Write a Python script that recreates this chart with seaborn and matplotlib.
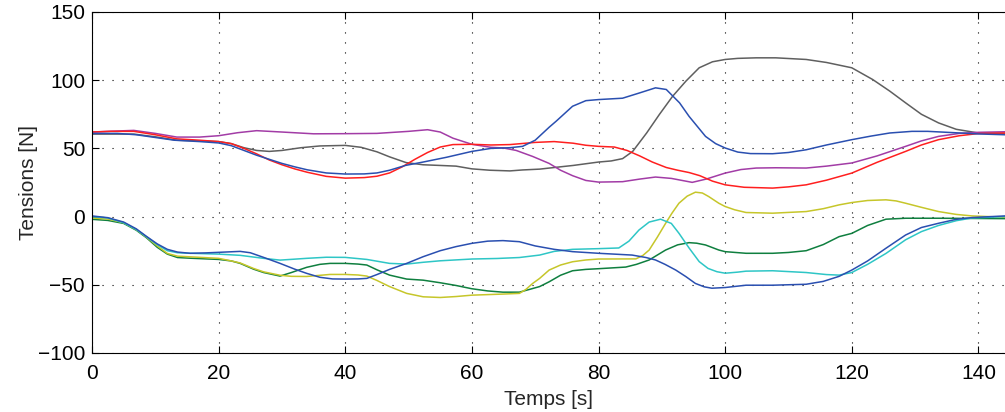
import matplotlib
matplotlib.use("Agg")
import matplotlib.pyplot as plt
import seaborn as sns
import pandas as pd

# ---- data ----
t_blue_up = [0, 4, 7, 10, 13, 17, 20, 22, 24, 26, 28, 30, 32, 34, 37, 40, 43, 45, 47, 49.5, 52.3, 56, 60, 63, 66, 68, 70, 72.2, 73.3, 75.9, 78, 80, 83.8, 86.5, 89, 90.7, 92.8, 94.3, 96.9, 98.5, 100, 102, 104, 107.5, 110, 112.8, 116, 120, 123, 126, 129.5, 132, 135, 140, 144.2]
v_blue_up = [61, 61, 60, 58, 56, 55, 54, 52, 48.5, 45, 42, 39, 36.5, 34.3, 32, 31.2, 31.3, 32, 34, 37.5, 40, 43.5, 47.8, 50, 50.5, 51.5, 56, 65.5, 69.9, 80.9, 85, 85.8, 86.8, 90.7, 94.4, 93.2, 83.4, 73.5, 58.8, 53.5, 50.3, 47.3, 46.2, 46.1, 47, 49, 52.5, 56.4, 59, 61.3, 62.5, 62.5, 61.8, 60.6, 60]

t_red_up = [0, 3, 6.6, 10, 13.4, 17, 20, 22, 24, 26, 28, 30, 32, 34, 37, 40, 43, 45, 47, 49, 51, 53, 55, 57, 60, 63, 66, 70, 73, 76, 78, 80, 82.5, 84.5, 86.5, 88.5, 90.7, 92.5, 94.3, 96, 98, 100, 103, 107.5, 110, 112.8, 116, 120, 124, 128.5, 131, 133.7, 137, 140, 144.2]
v_red_up = [62, 62.5, 62.5, 60, 57, 56, 55, 53.5, 50, 46, 41.5, 38, 35, 32.5, 29.5, 28.2, 28.6, 29.6, 32, 36.5, 42, 47, 51, 52.8, 53, 52.5, 52.8, 54.4, 55, 53.8, 52.3, 51.5, 51, 48.5, 44.5, 40, 36, 34, 32.3, 30, 26, 23.3, 21.5, 20.9, 21.8, 23.3, 26.7, 31.9, 39.8, 47.8, 52.5, 56.4, 59.3, 60.9, 61.3]

t_mag_up = [0, 3, 6.6, 10, 13.4, 17, 20, 23, 26, 30, 35, 40, 45, 50, 53, 55, 57, 60, 63, 65, 67, 69.6, 72.2, 74, 75.9, 78, 80, 83.8, 86.5, 89, 91.5, 94.8, 97, 100, 102.5, 104.9, 108, 112.8, 116, 120, 124, 128.5, 131, 133.7, 137, 140, 144.2]
v_mag_up = [62, 62.6, 63.2, 61, 58.3, 58.3, 59.3, 61.5, 63, 62, 60.7, 60.8, 61, 62.5, 63.7, 62, 57.5, 53, 50.8, 50.3, 48.5, 44.1, 39, 34, 30, 26.5, 25.3, 25.6, 27.5, 29, 28, 25.1, 27.5, 31.9, 34.5, 35.6, 35.8, 35.6, 37, 39.3, 44.5, 51.5, 55.5, 58.8, 61, 61.8, 62.2]

t_gray_up = [0, 6.6, 10, 13.4, 17, 20, 22, 24, 26, 28, 30, 33, 36, 40, 42.5, 45, 47, 49.6, 52.3, 55, 57.5, 60, 62.8, 66, 68, 70.7, 74, 76, 80, 82, 83.8, 85.4, 87.6, 89.6, 91.7, 93.8, 95.9, 98, 100, 102, 104.9, 108, 112.8, 116, 120, 123.3, 126, 128.5, 131, 133.7, 136.5, 140, 144.2]
v_gray_up = [60.5, 60.5, 58.5, 56, 55.5, 55, 53.5, 50.5, 48.5, 47.8, 48.5, 50.5, 51.8, 52.2, 50.8, 47.5, 43.8, 39.6, 38, 37.5, 37, 35, 34, 33.5, 34.2, 34.8, 36.5, 37.5, 40, 40.8, 42.5, 47.8, 61.3, 74.8, 88.2, 99.3, 109.1, 113.5, 115.2, 116, 116.4, 116.4, 115.2, 113, 109.1, 100.5, 92, 83.4, 75, 68.7, 64, 61.3, 61]

t_blue_lo = [0, 2.5, 5, 7, 8.6, 10.3, 11.9, 13.5, 15.5, 18, 20, 23.4, 25, 27.1, 29.7, 32, 33.9, 36, 38, 40, 42, 43.4, 45, 47, 49.7, 52.3, 55, 57.5, 60, 62.5, 64.9, 67.5, 70, 73, 75.9, 80, 85.3, 87.5, 89, 90.5, 92.2, 93.8, 95.3, 96.7, 97.9, 100, 103.3, 107.5, 112.8, 115.5, 118, 120, 122.5, 125.4, 128.5, 131, 133.7, 136.5, 139, 144.2]
v_blue_lo = [0.5, -0.8, -4, -9, -14.5, -20, -24, -26, -26.9, -26.6, -26.2, -25.5, -26.5, -29.9, -34.3, -38.5, -41.6, -44.5, -45.7, -45.8, -45.7, -45.3, -42.5, -38.7, -34.3, -29.4, -25, -22, -19.6, -18, -17.6, -18.4, -21.5, -24, -25.7, -26.9, -28.2, -30, -31.8, -35, -39.2, -44, -49, -51.5, -52.5, -52, -50.3, -50.3, -49.6, -47.5, -43.8, -39.2, -32.5, -23.2, -13.5, -8, -4.9, -2, -0.7, 0.5]

t_cyan_lo = [0, 2.5, 5, 7, 8.6, 10.3, 11.9, 13.5, 15.5, 20, 23.4, 27.1, 29.7, 32, 33.9, 37, 40, 43.4, 47, 49.7, 52.3, 55, 60, 64, 67.5, 70.7, 73, 75.9, 80, 83.2, 84.8, 86.4, 88, 89.8, 91.5, 92.7, 94.3, 95.9, 97.3, 98.7, 100, 102, 103.3, 107.5, 112.8, 116, 118, 120, 122.5, 125.4, 128.5, 131, 133.7, 136.5, 139, 144.2]
v_cyan_lo = [0, -1, -4.5, -9.5, -14.8, -20.5, -25, -26.5, -26.9, -27.5, -28.4, -30.6, -31.9, -31.2, -30.6, -29.8, -29.9, -31.4, -34.3, -34.8, -33.5, -32.4, -31.1, -30.7, -30, -28.2, -25.5, -24, -23.5, -23, -18, -9.8, -4, -1.9, -5, -12.2, -23, -33, -38, -40.4, -41.5, -40.7, -40, -39.7, -41, -42.5, -42.9, -41, -35, -27, -17, -11, -6.5, -3, -1, 0]

t_yel_lo = [0, 2.5, 5, 7, 8.6, 10.3, 11.9, 13.5, 15.5, 20, 22, 23.4, 25.5, 27.1, 29.7, 31.5, 33.9, 37.6, 40, 42, 43.4, 45, 47, 49.7, 52.3, 55, 57.5, 60, 64.9, 67.5, 68.5, 69.6, 70.7, 72.2, 74, 75.9, 78, 80, 85.9, 87, 88, 89.3, 90.6, 91.6, 92.7, 94, 95.3, 96.4, 97.4, 99, 100, 101.5, 103.3, 107.5, 112.8, 115.5, 118, 120, 122.5, 125.4, 127, 128.5, 131, 133.7, 136.5, 139, 144.2]
v_yel_lo = [-1, -1.8, -4.5, -9.5, -15, -21.5, -27, -29, -29.5, -30.6, -32.5, -34, -38, -40.5, -43, -43.8, -43.9, -42.4, -42.4, -42.8, -43.6, -46.8, -51.3, -56.3, -58.8, -59.3, -58.6, -57.6, -56.8, -56.3, -53.5, -49, -45.3, -39.2, -35.5, -33.1, -31.8, -31.1, -31, -28.5, -24.5, -15, -4.9, 2.5, 9.8, 15, 17.9, 17.3, 14.7, 9.8, 7.4, 5, 3, 2.5, 3.7, 5.8, 8.6, 10.3, 11.8, 12.3, 11.5, 9.8, 6.8, 3.7, 1.6, 0.5, -0.5]

t_grn_lo = [0, 2.5, 5, 7, 8.6, 10.3, 11.9, 13.5, 15.5, 20, 22, 23.4, 25.5, 27.1, 29.7, 31.5, 33.9, 36, 37.6, 40, 42, 43.4, 45, 47, 49.7, 52.3, 55, 57.5, 60, 62.5, 64.9, 67.5, 69, 70.7, 72.2, 74, 75.9, 78, 80, 84.3, 86, 88, 90.6, 92.5, 94.3, 95.5, 96.9, 99, 100, 103.3, 107.5, 110, 112.8, 115.5, 118, 120, 122.5, 125.4, 128.5, 133.7, 144.2]
v_grn_lo = [-2, -2.8, -5, -10, -15.5, -22.5, -27.5, -30, -30.5, -31.4, -32.5, -34.3, -38.5, -41, -43.6, -41, -37.2, -35, -34.3, -34.3, -34.8, -35.5, -39, -42.9, -45.8, -46.6, -48.5, -50.5, -52.9, -54.5, -55.4, -55.4, -53.5, -51.3, -47.8, -43, -39.7, -38.7, -38.2, -37, -35, -31.8, -24.5, -20.7, -19.1, -19.5, -20.8, -24.5, -25.7, -26.9, -26.9, -26.3, -25, -20.5, -14.7, -12.3, -6.5, -1.9, -1.2, -1.2, -1.5]

x_ticks = [0, 20, 40, 60, 80, 100, 120, 140]
y_ticks = [-100, -50, 0, 50, 100, 150]

series = [
    (t_gray_up, v_gray_up, "#5f5f5f"),
    (t_mag_up, v_mag_up, "#a23ca6"),
    (t_red_up, v_red_up, "#ff1f1f"),
    (t_blue_up, v_blue_up, "#2a4fb0"),
    (t_grn_lo, v_grn_lo, "#0f7f3f"),
    (t_yel_lo, v_yel_lo, "#c6c62a"),
    (t_cyan_lo, v_cyan_lo, "#2ec6c6"),
    (t_blue_lo, v_blue_lo, "#2a4fb0"),
]

sns.set_style("white")
plt.rcParams['font.family'] = ['Liberation Sans', 'DejaVu Sans']

fig = plt.figure(figsize=(10.05, 4.12), dpi=100)
ax = fig.add_axes([92 / 1005, 1 - 353 / 412, (1005 - 92) / 1005, (353 - 12) / 412])

for t, v, c in series:
    df = pd.DataFrame({"t": t, "v": v})
    sns.lineplot(data=df, x="t", y="v", ax=ax, color=c, linewidth=1.1, sort=False, estimator=None)

ax.set_xlim(0, 144.2)
ax.set_ylim(-100, 150)
ax.set_xticks(x_ticks)
ax.set_yticks(y_ticks)
ax.set_yticklabels([str(v).replace("-", "\u2212") for v in y_ticks])
ax.grid(True, color="black", linestyle=(0, (1, 8)), linewidth=0.8)
ax.set_axisbelow(True)
for s in ["left", "bottom", "top"]:
    ax.spines[s].set_color("black")
    ax.spines[s].set_linewidth(0.8)
ax.spines["right"].set_visible(False)
ax.tick_params(axis="both", direction="in", length=5, width=0.8, labelsize=15, colors="black",
               top=True, bottom=True, left=True, right=False)
ax.tick_params(axis="x", pad=8)
ax.tick_params(axis="y", pad=5)
ax.set_xlabel("Temps [s]", fontsize=15, labelpad=5)
ax.set_ylabel("Tensions [N]", fontsize=15, labelpad=0)

fig.savefig("out.png", dpi=100)
